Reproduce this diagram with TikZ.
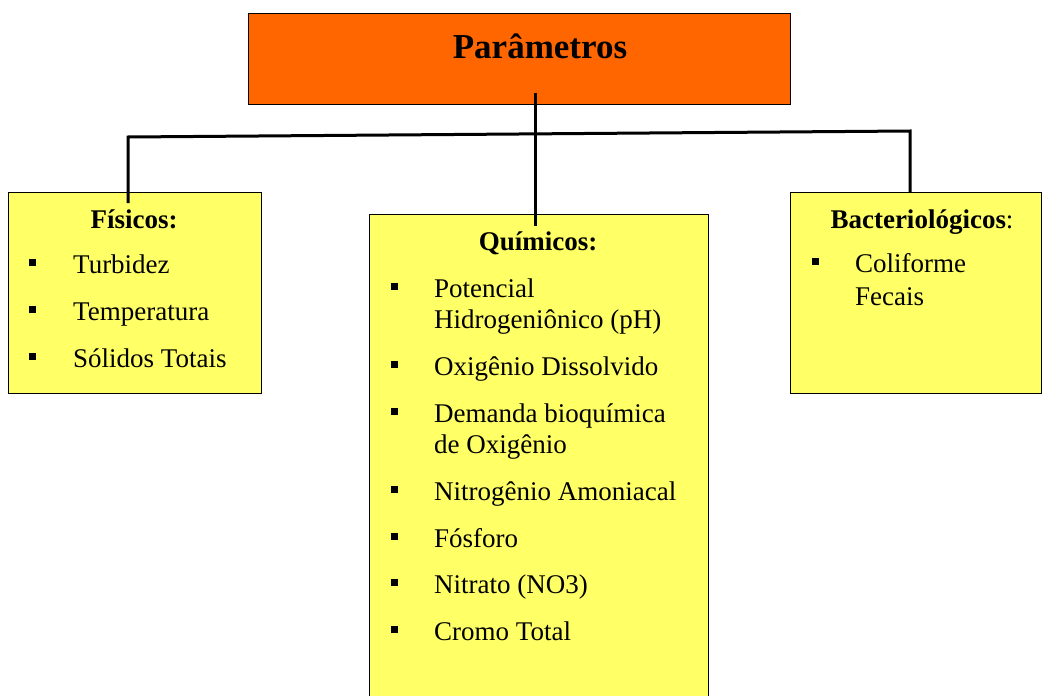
\documentclass[tikz,border=0pt]{standalone}
\usepackage{fontspec}
\setmainfont{Liberation Serif}
\usetikzlibrary{positioning}
\definecolor{laranja}{HTML}{FF6600}
\definecolor{amarelo}{HTML}{FFFF66}

\begin{document}
\begin{tikzpicture}[x=1pt, y=-1pt, font=\fontsize{27}{31}\selectfont,
    caixa/.style={draw, line width=1.3pt, fill=amarelo, inner sep=0pt, anchor=north west},
    item/.style={anchor=base west, inner sep=0pt},
    cabeca/.style={anchor=base, inner sep=0pt, font=\fontsize{27}{31}\selectfont\bfseries},
    ramo/.style={line width=3pt}]
    \useasboundingbox (0,0) rectangle (1042,696);
    % caixas
    \node[caixa, fill=laranja, minimum width=542, minimum height=91] (titulo) at (248,13) {};
    \node[caixa, minimum width=253, minimum height=201] (fisicos) at (8,192) {};
    \node[caixa, minimum width=339, minimum height=490] (quimicos) at (369,214) {};
    \node[caixa, minimum width=251, minimum height=201] (bacterio) at (790,192) {};
    % ligacoes
    \coordinate (c0) at (535,93);
    \coordinate (e0) at (128,137);
    \coordinate (d0) at (910,131);
    \draw[ramo] (c0) -- ([yshift=-12pt]c0 |- quimicos.north);
    \draw[ramo] ([yshift=-11pt]e0 |- fisicos.north) -- (e0) -- (d0) -- (d0 |- bacterio.north);
    % textos
    \node[anchor=base, inner sep=0pt, font=\fontsize{35}{40}\selectfont\bfseries] (tit) at (540,58) {Parâmetros};
    \node[cabeca] (tfis) at (134,228) {Físicos:};
    \node[cabeca] (tqui) at (538,250) {Químicos:};
    \node[cabeca, font=\fontsize{27}{31}\selectfont] (tbac) at (922,228) {\textbf{Bacteriológicos}:};
    \foreach \y/\nome in {273/Turbidez,320/Temperatura,367/Sólidos Totais}{\fill (29,\y-14) rectangle +(7,7); \node[item] (f\y) at (73,\y) {\nome};}
    \foreach \y in {297,375,422,500,547,593,640}{\fill (391,\y-14) rectangle +(7,7);}
    \foreach \y/\nome in {297/Potencial,328/Hidrogeniônico (pH),375/Oxigênio Dissolvido,422/Demanda bioquímica,453/de Oxigênio,500/Nitrogênio Amoniacal,547/Fósforo,593/Nitrato (NO3),640/Cromo Total}{\node[item] (q\y) at (434,\y) {\nome};}
    \foreach \y/\nome in {272/Coliforme,305/Fecais}{\node[item] (b\y) at (855,\y) {\nome};}
    \fill (812,272-14) rectangle +(7,7);
\end{tikzpicture}
\end{document}
